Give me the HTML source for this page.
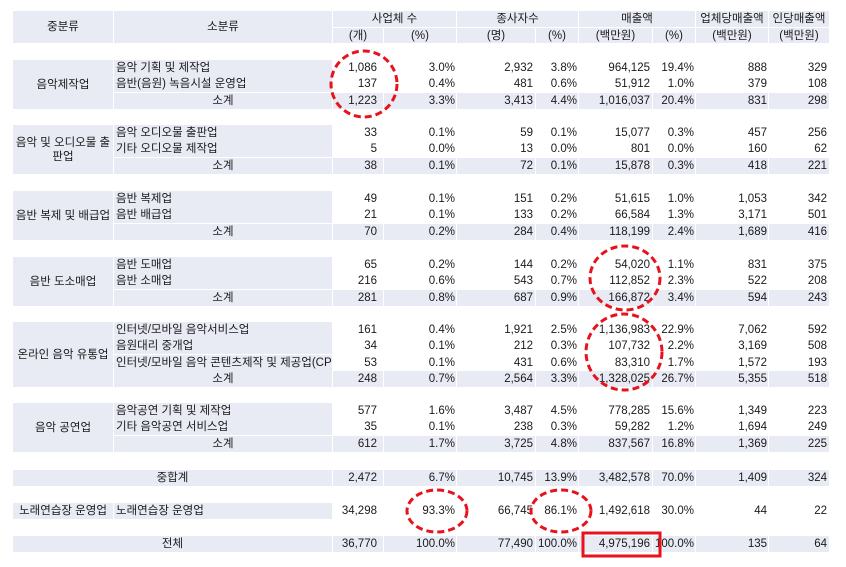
<!DOCTYPE html>
<html><head><meta charset="utf-8">
<style>
body{margin:0;width:846px;height:567px;background:#fff;overflow:hidden;font-family:"Liberation Sans","Noto Sans CJK KR",sans-serif;font-size:11.5px;color:#1a1a1a;position:relative}
.c{position:absolute;box-sizing:border-box;display:flex;align-items:center;white-space:nowrap;overflow:hidden;line-height:14px}
.s{background:#e8ebf4}
.r{justify-content:flex-end}
.m{justify-content:center;text-align:center}
.l{justify-content:flex-start;padding-left:2px}
svg{position:absolute;left:0;top:0}
</style></head><body>
<div id="t"></div>
<svg width="846" height="567">
<g fill="none" stroke="#e8121c" stroke-width="3" stroke-dasharray="7,4">
<ellipse cx="364" cy="84" rx="33" ry="33"/>
<ellipse cx="625" cy="278" rx="35" ry="32"/>
<ellipse cx="624" cy="352" rx="38" ry="38"/>
<ellipse cx="437" cy="511" rx="30" ry="21"/>
<ellipse cx="561" cy="511" rx="30" ry="21"/>
</g>
<rect x="583" y="533" width="77" height="23" fill="none" stroke="#e8121c" stroke-width="3"/>
</svg>
<script>
const X=[12,113,332,383,456,535,578,652,695,768,829];
const PAD=[6,1,2,1,2,1,1,2];
const groupNames=["음악제작업","음악 및 오디오물 출<br>판업","음반 복제 및 배급업","음반 도소매업","온라인 음악 유통업","음악 공연업"];
const groupTops=[60,125,191,257,322,403];
const subNames=[
["음악 기획 및 제작업","음반(음원) 녹음시설 운영업","소계"],
["음악 오디오물 출판업","기타 오디오물 제작업","소계"],
["음반 복제업","음반 배급업","소계"],
["음반 도매업","음반 소매업","소계"],
["인터넷/모바일 음악서비스업","음원대리 중개업","인터넷/모바일 음악 콘텐츠제작 및 제공업(CP)","소계"],
["음악공연 기획 및 제작업","기타 음악공연 서비스업","소계"]];
const values=[
[["1,086","3.0%","2,932","3.8%","964,125","19.4%","888","329"],["137","0.4%","481","0.6%","51,912","1.0%","379","108"],["1,223","3.3%","3,413","4.4%","1,016,037","20.4%","831","298"]],
[["33","0.1%","59","0.1%","15,077","0.3%","457","256"],["5","0.0%","13","0.0%","801","0.0%","160","62"],["38","0.1%","72","0.1%","15,878","0.3%","418","221"]],
[["49","0.1%","151","0.2%","51,615","1.0%","1,053","342"],["21","0.1%","133","0.2%","66,584","1.3%","3,171","501"],["70","0.2%","284","0.4%","118,199","2.4%","1,689","416"]],
[["65","0.2%","144","0.2%","54,020","1.1%","831","375"],["216","0.6%","543","0.7%","112,852","2.3%","522","208"],["281","0.8%","687","0.9%","166,872","3.4%","594","243"]],
[["161","0.4%","1,921","2.5%","1,136,983","22.9%","7,062","592"],["34","0.1%","212","0.3%","107,732","2.2%","3,169","508"],["53","0.1%","431","0.6%","83,310","1.7%","1,572","193"],["248","0.7%","2,564","3.3%","1,328,025","26.7%","5,355","518"]],
[["577","1.6%","3,487","4.5%","778,285","15.6%","1,349","223"],["35","0.1%","238","0.3%","59,282","1.2%","1,694","249"],["612","1.7%","3,725","4.8%","837,567","16.8%","1,369","225"]]];
const subtotalRow=["2,472","6.7%","10,745","13.9%","3,482,578","70.0%","1,409","324"];
const karaokeRow=["34,298","93.3%","66,745","86.1%","1,492,618","30.0%","44","22"];
const totalRow=["36,770","100.0%","77,490","100.0%","4,975,196","100.0%","135","64"];
const RH=16.3;
const T=document.getElementById('t');
function cell(x1,x2,y,h,html,cls,name,pad){
 const d=document.createElement('div');
 d.className='c '+cls;
 d.style.left=(x1+1)+'px';d.style.width=(x2-x1-1)+'px';
 d.style.top=y+'px';d.style.height=(h-1)+'px';
 if(pad!==undefined)d.style.paddingRight=pad+'px';
 d.innerHTML=html;
 
 
 T.appendChild(d);
}
cell(X[0],X[1],11,33,"중분류","s m","header-category");
cell(X[1],X[2],11,33,"소분류","s m","header-subcategory");
const hTop=["사업체 수","종사자수","매출액"];
for(let i=0;i<3;i++)cell(X[2+2*i],X[4+2*i],11,17,hTop[i],"s m","header-"+i);
cell(X[8],X[9],11,17,"업체당매출액","s m","header-sales-per-company");
cell(X[9],X[10],11,17,"인당매출액","s m","header-sales-per-person");
const hSub=["(개)","(%)","(명)","(%)","(백만원)","(%)","(백만원)","(백만원)"];
for(let i=0;i<8;i++)cell(X[2+i],X[3+i],28,16,hSub[i],"s m","header-unit-"+i);
function numRow(vals,y,shade,prefix){
 for(let i=0;i<8;i++)cell(X[2+i],X[3+i],y,17,vals[i],(shade?"s ":"")+"r",prefix+"-value-"+i,PAD[i]);
}
for(let g=0;g<groupNames.length;g++){
 const y0=groupTops[g],n=subNames[g].length;
 cell(X[0],X[1],y0,Math.round(n*RH)+1,groupNames[g],"s m","group-"+g+"-name");
 for(let r=0;r<n;r++){
  const y=Math.round(y0+r*RH);
  const last=r==n-1;
  cell(X[1],X[2],y,17,subNames[g][r],"s "+(last?"m":"l"),"group-"+g+"-row-"+r+"-name");
  numRow(values[g][r],y,last,"group-"+g+"-row-"+r);
 }
}
cell(X[0],X[2],470,17,"중합계","s m","subtotal-label");
numRow(subtotalRow,470,true,"subtotal");
cell(X[0],X[1],503,17,"노래연습장 운영업","s m","karaoke-category");
cell(X[1],X[2],503,17,"노래연습장 운영업","s l","karaoke-subcategory");
numRow(karaokeRow,503,false,"karaoke");
cell(X[0],X[2],536,17,"전체","s m","total-label");
numRow(totalRow,536,true,"total");
</script>
</body></html>
